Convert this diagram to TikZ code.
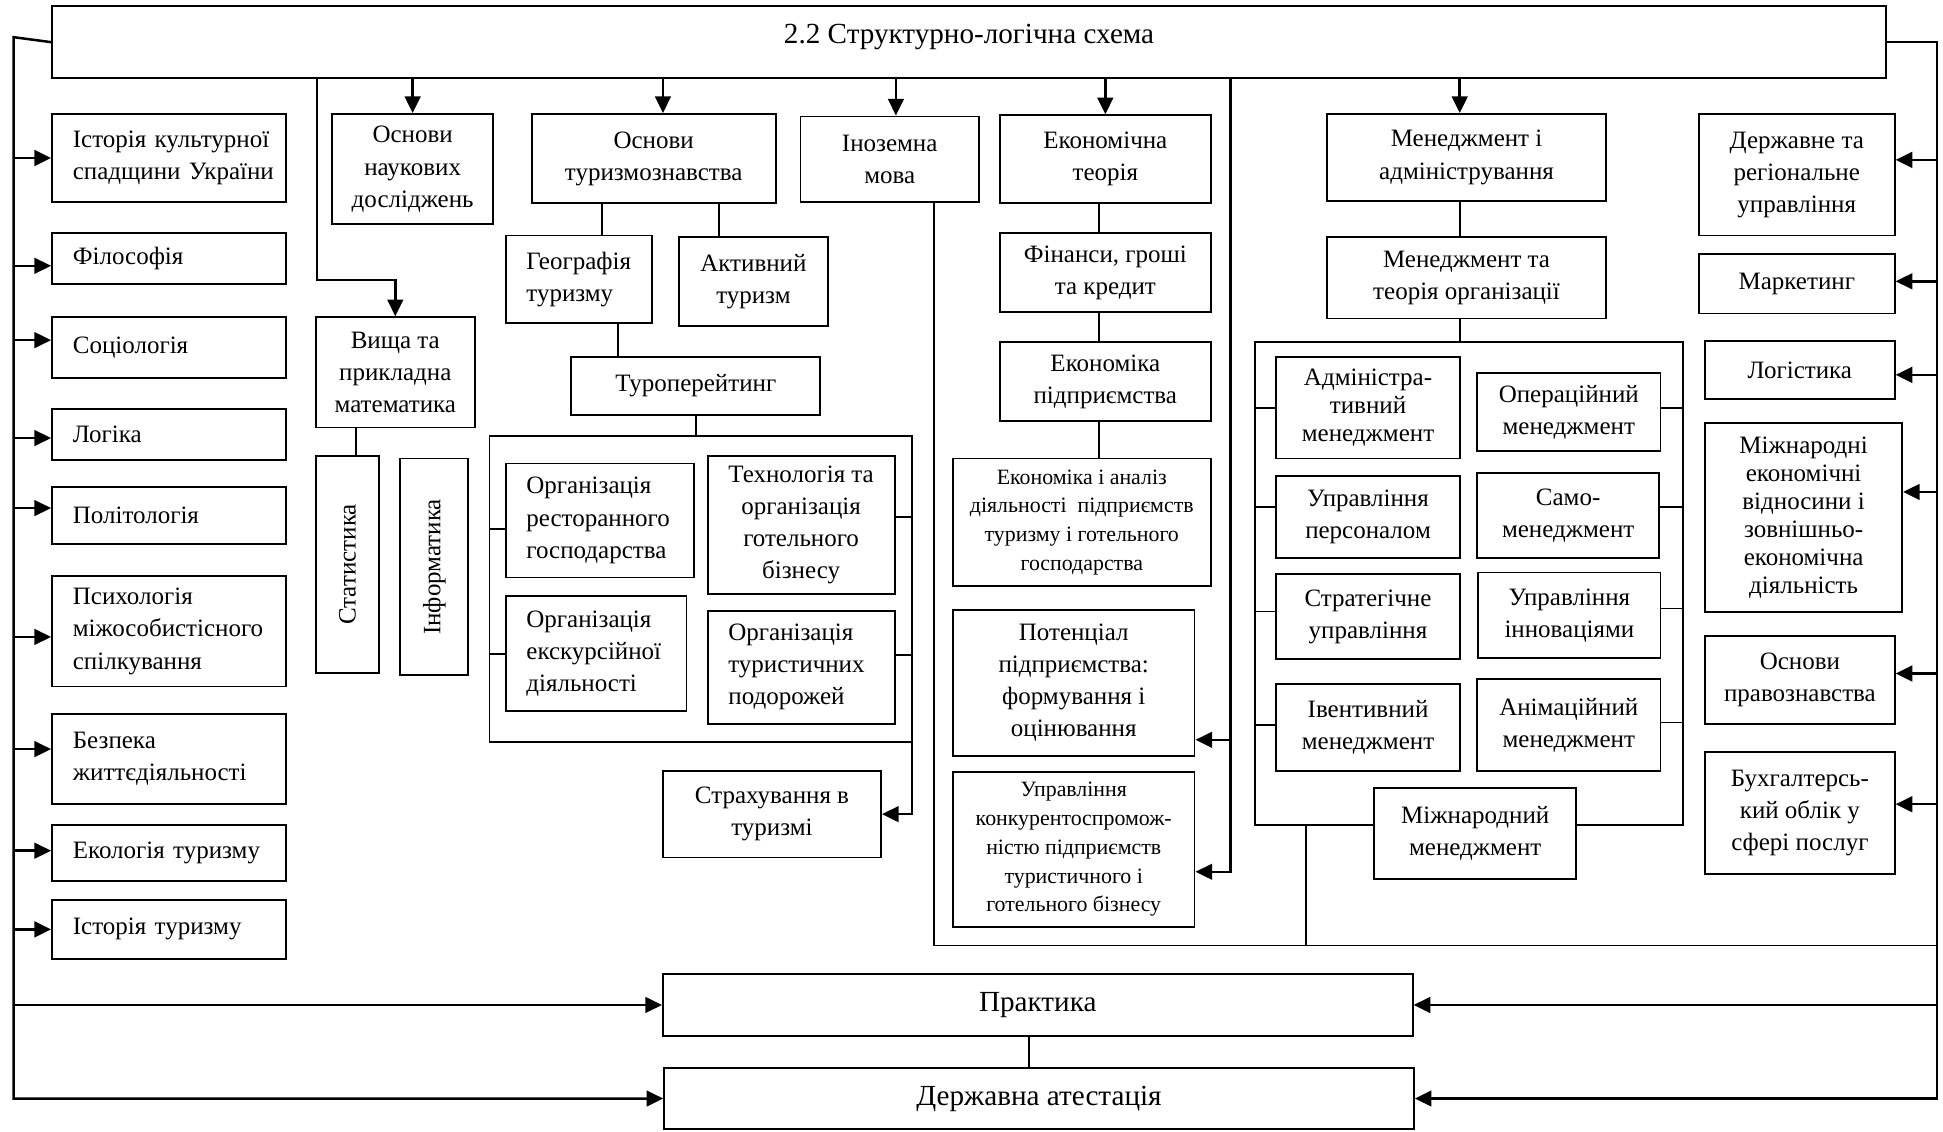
\documentclass[tikz,border=0pt]{standalone}
\usepackage{fontspec}
\setmainfont{Liberation Serif}
\usetikzlibrary{arrows.meta,calc}
\newcommand\mybox[7][]{%
  \pgfmathsetmacro\bxcx{(#3+#5)/2}%
  \pgfmathsetmacro\bxcy{(#4+#6)/2}%
  \pgfmathsetmacro\bxw{(#5-#3)*0.5948}%
  \pgfmathsetmacro\bxh{(#6-#4)*0.5948}%
  \pgfmathsetmacro\bxtw{(#5-#3)*0.5948-20}%
  \node[box, minimum width=\bxw pt, minimum height=\bxh pt, #1] (#2) at (\bxcx,\bxcy) {#7};%
}
\tikzset{
  box/.style={draw, line width=0.9pt, fill=white, inner sep=0pt, align=center,
              font=\fontsize{12pt}{15.4pt}\selectfont},
  lbox/.style={align=left, text width=\bxtw pt, inner xsep=10pt},
  ftight/.style={font=\fontsize{12pt}{13.4pt}\selectfont},
  fsmall/.style={font=\fontsize{10.5pt}{13.8pt}\selectfont},
  fbig/.style={font=\fontsize{14pt}{17pt}\selectfont},
  conn/.style={line width=0.9pt},
  arr/.style={line width=1.2pt, -{Triangle[length=8pt,width=7.5pt]}},
}
\begin{document}
\begin{tikzpicture}[x=0.5948pt, y=-0.5948pt]
\fill[white] (0,0) rectangle (1568,913);
\useasboundingbox (0,0) rectangle (1568,913);

% group frames (drawn first)
\coordinate (g1tl) at (395,352);
\coordinate (g1br) at (736,599);
\draw[conn] (g1tl) rectangle (g1br);
\coordinate (g2tl) at (1013,276);
\coordinate (g2br) at (1358,666);
\draw[conn] (g2tl) rectangle (g2br);

% title
\mybox[fbig, text depth=8pt]{T}{42}{5}{1522}{63}{2.2 Структурно-логічна схема}

% left column
\mybox[lbox]{h1}{42}{92}{231}{163}{Історія~культурної\\спадщини~України}
\mybox[lbox]{h2}{42}{188}{231}{229}{Філософія}
\mybox[lbox]{h3}{42}{256}{231}{305}{Соціологія}
\mybox[lbox]{h4}{42}{330}{231}{371}{Логіка}
\mybox[lbox]{h5}{42}{393}{231}{439}{Політологія}
\mybox[lbox]{h6}{42}{465}{231}{554}{Психологія\\міжособистісного\\спілкування}
\mybox[lbox]{h7}{42}{576}{231}{649}{Безпека\\життєдіяльності}
\mybox[lbox]{h8}{42}{666}{231}{711}{Екологія~туризму}
\mybox[lbox]{h9}{42}{726}{231}{774}{Історія~туризму}

% second column
\mybox{onb}{268}{92}{398}{181}{Основи\\наукових\\досліджень}
\mybox{vm}{255}{256}{383}{345}{Вища та\\прикладна\\математика}
\node[box, rotate=90, minimum width=104.1pt, minimum height=30.3pt] (stat) at (280.5,455.5) {Статистика};
\node[box, rotate=90, minimum width=104.1pt, minimum height=32.7pt] (inf) at (350.5,457.5) {Інформатика};

% tourism column
\mybox{ot}{429}{92}{626}{164}{Основи\\туризмознавства}
\mybox[lbox]{geo}{408}{190}{526}{261}{Географія\\туризму}
\mybox{akt}{548}{191}{668}{263}{Активний\\туризм}
\mybox{tour}{461}{288}{662}{335}{Туроперейтинг}
\mybox[lbox]{rest}{408}{374}{560}{466}{Організація\\ресторанного\\господарства}
\mybox[lbox]{eks}{408}{481}{554}{574}{Організація\\екскурсійної\\діяльності}
\mybox{tech}{571}{368}{722}{479}{Технологія та\\організація\\готельного\\бізнесу}
\mybox[lbox]{podor}{571}{493}{722}{584}{Організація\\туристичних\\подорожей}
\mybox{strakh}{535}{622}{711}{692}{Страхування в\\туризмі}

% language and economics
\mybox{im}{646}{94}{790}{163}{Іноземна\\мова}
\mybox{et}{807}{93}{977}{164}{Економічна\\теорія}
\mybox{fg}{807}{188}{977}{252}{Фінанси, гроші\\та кредит}
\mybox{ep}{807}{276}{977}{340}{Економіка\\підприємства}
\mybox[fsmall]{ea}{769}{370}{977}{473}{Економіка і аналіз\\діяльності\ \ підприємств\\туризму і готельного\\господарства}
\mybox{pot}{769}{492}{964}{610}{Потенціал\\підприємства:\\формування і\\оцінювання}
\mybox[fsmall]{uk}{769}{623}{964}{748}{Управління\\конкурентоспромож-\\ністю підприємств\\туристичного і\\готельного бізнесу}

% management
\mybox{ma}{1071}{92}{1296}{162}{Менеджмент і\\адміністрування}
\mybox{mt}{1071}{191}{1296}{257}{Менеджмент та\\теорія організації}
\mybox[ftight]{adm}{1030}{288}{1178}{370}{Адміністра-\\тивний\\менеджмент}
\mybox{oper}{1192}{301}{1340}{364}{Операційний\\менеджмент}
\mybox{pers}{1030}{384}{1178}{450}{Управління\\персоналом}
\mybox{samo}{1192}{382}{1339}{450}{Само-\\менеджмент}
\mybox{strat}{1030}{463}{1178}{532}{Стратегічне\\управління}
\mybox{innov}{1193}{462}{1340}{531}{Управління\\інноваціями}
\mybox{ivent}{1030}{552}{1178}{622}{Івентивний\\менеджмент}
\mybox{anim}{1192}{548}{1340}{622}{Анімаційний\\менеджмент}
\mybox{mm}{1109}{636}{1272}{709}{Міжнародний\\менеджмент}

% right column
\mybox{ds}{1371}{92}{1529}{190}{Державне та\\регіональне\\управління}
\mybox{mk}{1371}{205}{1529}{253}{Маркетинг}
\mybox{lg}{1376}{275}{1529}{322}{Логістика}
\mybox[ftight]{me}{1376}{341}{1535}{494}{Міжнародні\\економічні\\відносини і\\зовнішньо-\\економічна\\діяльність}
\mybox{op}{1376}{513}{1529}{584}{Основи\\правознавства}
\mybox{bo}{1376}{607}{1529}{705}{Бухгалтерсь-\\кий облік у\\сфері послуг}

% bottom
\mybox[fbig]{pr}{535}{786}{1140}{836}{Практика}
\mybox[fbig]{da}{536}{862}{1141}{911}{Державна атестація}

% ---------- buses ----------
\coordinate (LB) at (11,30);
\coordinate (RB) at (1563,34);
\draw[arr] (T.west) -- (LB) -- (LB |- da.west) -- (da.west);
\draw[arr] (T.east) -- (RB) -- (RB |- da.east) -- (da.east);
\draw[arr] (LB |- pr.west) -- (pr.west);
\draw[arr] (RB |- pr.east) -- (pr.east);

% left arrows
\coordinate (a1) at (h1.west);
\coordinate (a2) at ($(h2.west)+(0,6)$);
\coordinate (a3) at ($(h3.west)+(0,-6)$);
\coordinate (a4) at ($(h4.west)+(0,3)$);
\coordinate (a5) at ($(h5.west)+(0,-6)$);
\coordinate (a6) at ($(h6.west)+(0,4.5)$);
\coordinate (a7) at ($(h7.west)+(0,-8)$);
\coordinate (a8) at ($(h8.west)+(0,-2)$);
\coordinate (a9) at (h9.west);
\foreach \a in {a1,a2,a3,a4,a5,a6,a7,a8,a9}
  \draw[arr] (\a -| LB) -- (\a);

% right arrows
\coordinate (r1) at ($(ds.east)+(0,-12)$);
\coordinate (r2) at ($(mk.east)+(0,-2)$);
\coordinate (r3) at ($(lg.east)+(0,4)$);
\coordinate (r4) at ($(me.east)+(0,-20.5)$);
\coordinate (r5) at ($(op.east)+(0,-5)$);
\coordinate (r6) at ($(bo.east)+(0,-7)$);
\foreach \a in {r1,r2,r3,r4,r5,r6}
  \draw[arr] (\a -| RB) -- (\a);

% arrows from the title
\draw[arr] (onb.north |- T.south) -- (onb.north);
\coordinate (t2) at ($(ot.north)+(7.5,0)$);
\draw[arr] (t2 |- T.south) -- (t2);
\coordinate (t3) at ($(im.north)+(5,0)$);
\draw[arr] (t3 |- T.south) -- (t3);
\draw[arr] (et.north |- T.south) -- (et.north);
\coordinate (t5) at ($(ma.north)+(-5.5,0)$);
\draw[arr] (t5 |- T.south) -- (t5);
\coordinate (b1) at (256,226);
\draw[arr] (b1 |- T.south) -- (b1) -- (b1 -| vm.north) -- (vm.north);

% line at x=993 to Потенціал / Управління
\coordinate (V2) at (993,62);
\coordinate (c1) at ($(pot.east)+(0,46)$);
\coordinate (c2) at ($(uk.east)+(0,18)$);
\draw[arr] (V2 |- T.south) -- (V2 |- c2) -- (c2);
\draw[arr] (V2 |- c1) -- (c1);

% horizontal link at y=763
\coordinate (HB) at (0,763);
\coordinate (i1) at ($(im.south)+(36,0)$);
\draw[conn] (i1) -- (i1 |- HB) -- (RB |- HB);
\coordinate (g2b) at (1054,666);
\draw[conn] (g2b) -- (g2b |- HB);

% Вища -> Статистика
\coordinate (v1) at ($(vm.south)+(-32,0)$);
\draw[conn] (v1) -- (v1 |- stat.east);

% tourism connectors
\coordinate (o1) at ($(geo.north)+(19,0)$);
\draw[conn] (o1 |- ot.south) -- (o1);
\coordinate (o2) at ($(akt.north)+(-28,0)$);
\draw[conn] (o2 |- ot.south) -- (o2);
\coordinate (o3) at ($(geo.south)+(32,0)$);
\draw[conn] (o3) -- (o3 |- tour.north);
\draw[conn] (tour.south) -- (tour.south |- g1tl);
\coordinate (q1) at ($(rest.west)+(0,7)$);
\draw[conn] (q1 -| g1tl) -- (q1);
\draw[conn] (eks.west -| g1tl) -- (eks.west);
\coordinate (q3) at ($(tech.east)+(0,-6.5)$);
\draw[conn] (q3) -- (q3 -| g1br);
\coordinate (q4) at ($(podor.east)+(0,-10)$);
\draw[conn] (q4) -- (q4 -| g1br);
\draw[arr] (g1br) -- (g1br |- strakh.east) -- (strakh.east);

% economics chain
\coordinate (e0) at ($(et.south)+(-5,0)$);
\draw[conn] (e0) -- (e0 |- fg.north);
\draw[conn] (e0 |- fg.south) -- (e0 |- ep.north);
\draw[conn] (e0 |- ep.south) -- (e0 |- ea.north);

% management connectors
\coordinate (m1) at ($(ma.south)+(-5.5,0)$);
\draw[conn] (m1) -- (m1 |- mt.north);
\coordinate (m2) at ($(mt.south)+(-5.5,0)$);
\draw[conn] (m2) -- (m2 |- g2tl);
\draw[conn] (adm.west -| g2tl) -- (adm.west);
\coordinate (n2) at ($(pers.west)+(0,-8)$);
\draw[conn] (n2 -| g2tl) -- (n2);
\coordinate (n3) at ($(strat.west)+(0,-4)$);
\draw[conn] (n3 -| g2tl) -- (n3);
\coordinate (n4) at ($(ivent.west)+(0,-2)$);
\draw[conn] (n4 -| g2tl) -- (n4);
\coordinate (k1) at ($(oper.east)+(0,-3)$);
\draw[conn] (k1) -- (k1 -| g2br);
\coordinate (k2) at ($(samo.east)+(0,-7)$);
\draw[conn] (k2) -- (k2 -| g2br);
\coordinate (k3) at ($(innov.east)+(0,-5.5)$);
\draw[conn] (k3) -- (k3 -| g2br);
\coordinate (k4) at ($(anim.east)+(0,-2)$);
\draw[conn] (k4) -- (k4 -| g2br);

% Практика -> Державна атестація
\coordinate (p1) at ($(pr.south)+(-7,0)$);
\draw[conn] (p1) -- (p1 |- da.north);
\end{tikzpicture}
\end{document}
